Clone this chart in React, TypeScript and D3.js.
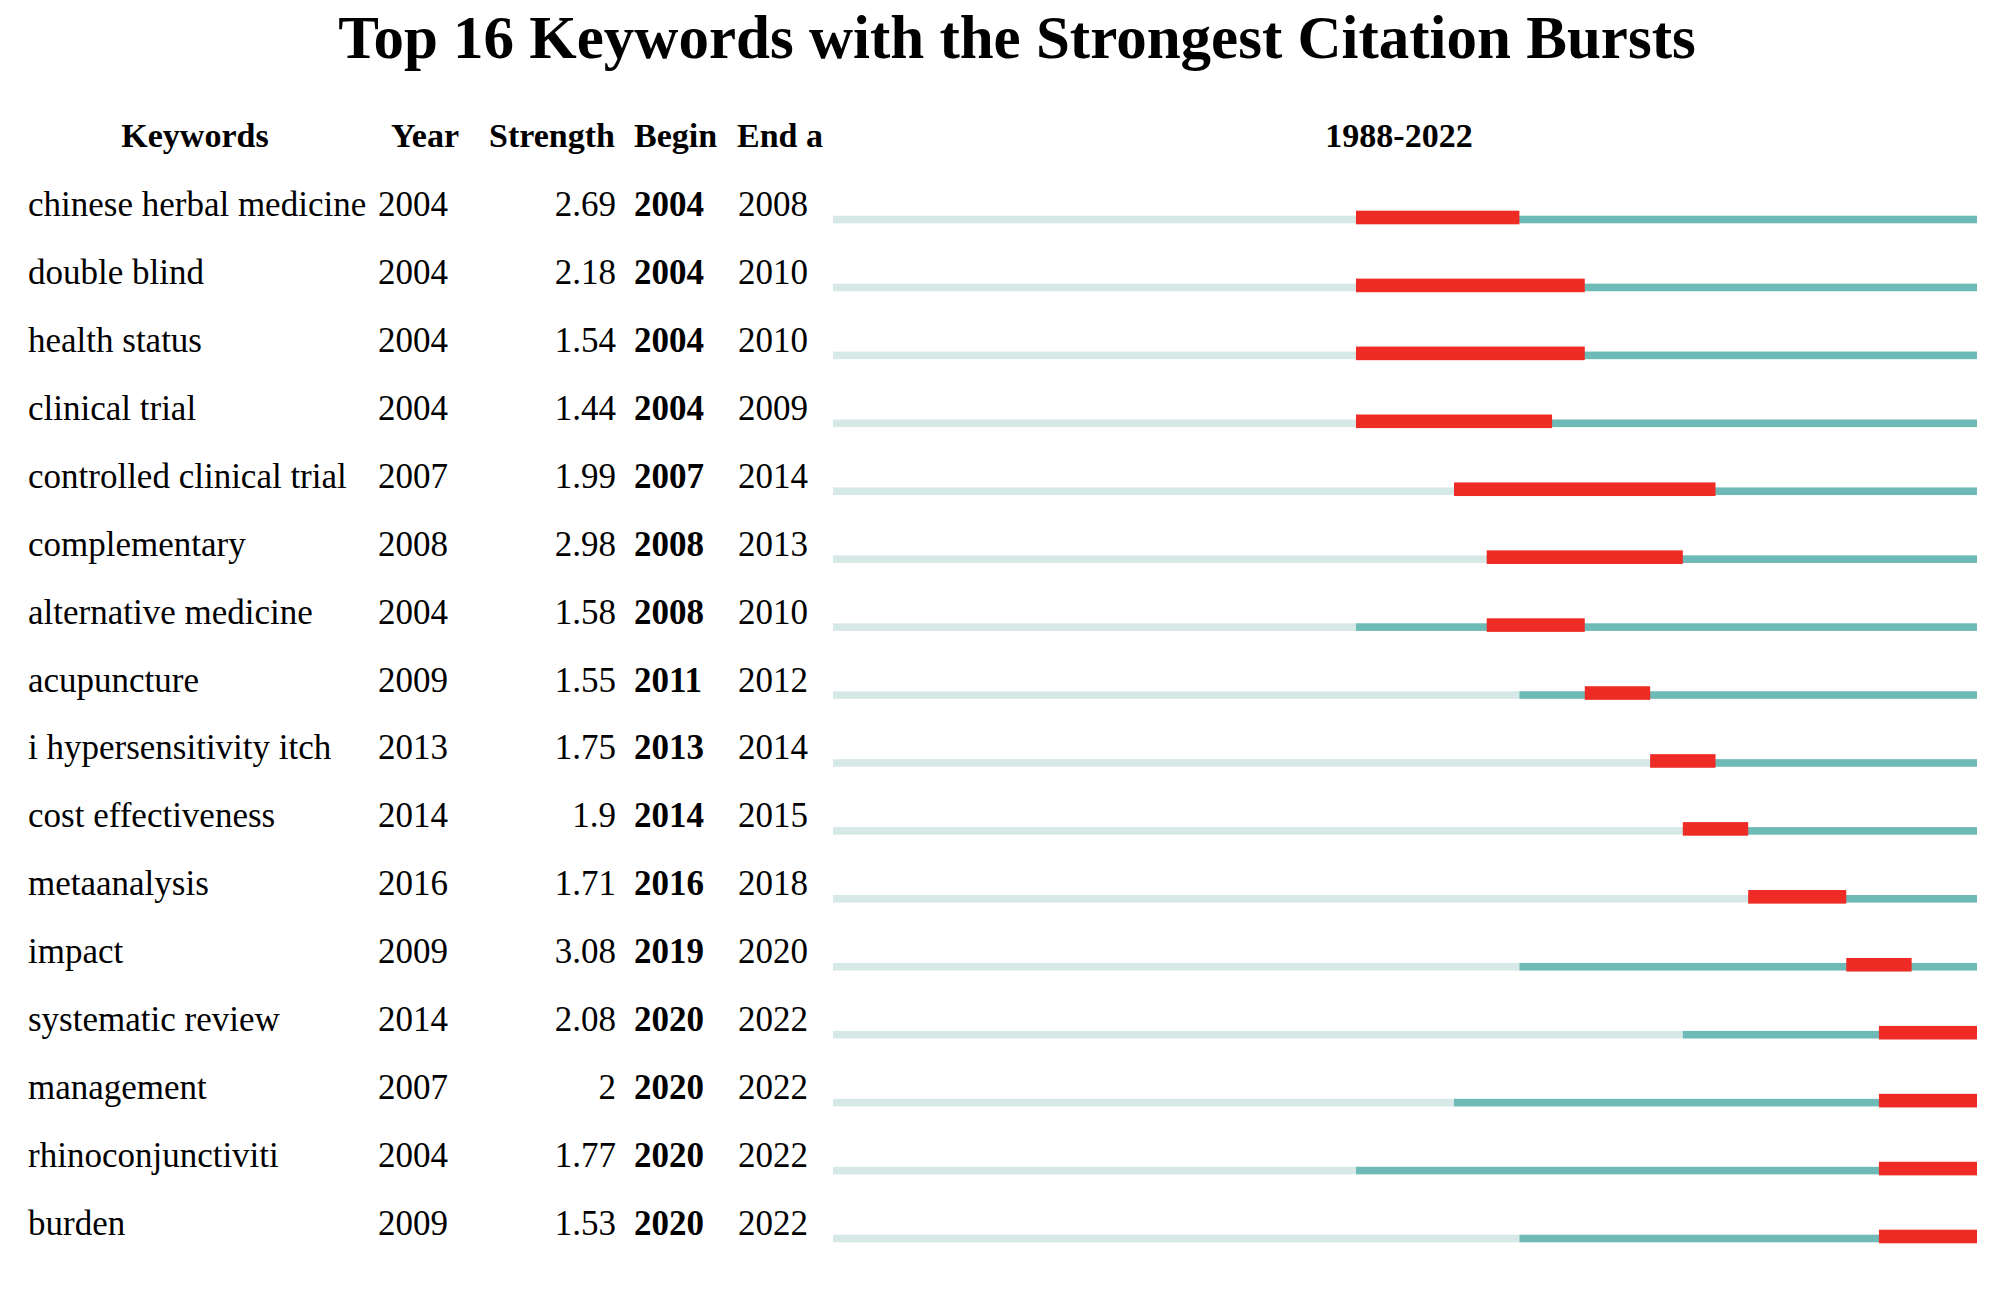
import React from "react";
import * as d3 from "d3";

const keywords = [
  "chinese herbal medicine",
  "double blind",
  "health status",
  "clinical trial",
  "controlled clinical trial",
  "complementary",
  "alternative medicine",
  "acupuncture",
  "i hypersensitivity itch",
  "cost effectiveness",
  "metaanalysis",
  "impact",
  "systematic review",
  "management",
  "rhinoconjunctiviti",
  "burden",
];
const years = [2004, 2004, 2004, 2004, 2007, 2008, 2004, 2009, 2013, 2014, 2016, 2009, 2014, 2007, 2004, 2009];
const strengths = [2.69, 2.18, 1.54, 1.44, 1.99, 2.98, 1.58, 1.55, 1.75, 1.9, 1.71, 3.08, 2.08, 2, 1.77, 1.53];
const begins = [2004, 2004, 2004, 2004, 2007, 2008, 2008, 2011, 2013, 2014, 2016, 2019, 2020, 2020, 2020, 2020];
const ends = [2008, 2010, 2010, 2009, 2014, 2013, 2010, 2012, 2014, 2015, 2018, 2020, 2022, 2022, 2022, 2022];
const firstYear = 1988;
const lastYear = 2022;
const headers = ["Keywords", "Year", "Strength", "Begin", "End a"];
const title = "Top 16 Keywords with the Strongest Citation Bursts";

const W = 2000;
const H = 1293;
const FONT = "'Liberation Serif', 'Times New Roman', Times, serif";

export default function App() {
  const x = d3.scaleLinear().domain([firstYear, lastYear + 1]).range([833, 1977]);
  const y = d3.scaleLinear().domain([0, keywords.length - 1]).range([217.5, 1236.5]);
  const light = "#d7e9e7";
  const teal = "#6dbab6";
  const red = "#ee2c25";
  const fs = 35;

  return (
    <svg
      width={W}
      height={H}
      viewBox={`0 0 ${W} ${H}`}
      style={{ position: "absolute", left: 0, top: 0, background: "#fff" }}
      fontFamily={FONT}
    >
      <rect x={0} y={0} width={W} height={H} fill="#fff" />
      <text x={1017} y={58} textAnchor="middle" fontSize={61} fontWeight="bold" fill="#000">
        {title}
      </text>
      <g fontWeight="bold" fontSize={34} fill="#000">
        <text x={195} y={147} textAnchor="middle">{headers[0]}</text>
        <text x={391} y={147}>{headers[1]}</text>
        <text x={615} y={147} textAnchor="end">{headers[2]}</text>
        <text x={634} y={147}>{headers[3]}</text>
        <text x={737} y={147}>{headers[4]}</text>
        <text x={1399} y={147} textAnchor="middle">{`${firstYear}-${lastYear}`}</text>
      </g>
      {keywords.map((k, i) => {
        const cy = y(i);
        const ty = cy - 1.5;
        return (
          <g key={k}>
            <text x={28} y={ty} fontSize={fs} fill="#000">{k}</text>
            <text x={378} y={ty} fontSize={fs} fill="#000">{years[i]}</text>
            <text x={616} y={ty} fontSize={fs} fill="#000" textAnchor="end">{String(strengths[i])}</text>
            <text x={634} y={ty} fontSize={fs} fontWeight="bold" fill="#000">{begins[i]}</text>
            <text x={738} y={ty} fontSize={fs} fill="#000">{ends[i]}</text>
            <rect x={x(firstYear)} y={cy - 1.8} width={x(years[i]) - x(firstYear)} height={7.6} fill={light} />
            <rect x={x(years[i])} y={cy - 1.8} width={x(lastYear + 1) - x(years[i])} height={7.6} fill={teal} />
            <rect x={x(begins[i])} y={cy - 6.8} width={x(ends[i] + 1) - x(begins[i])} height={13.6} fill={red} />
          </g>
        );
      })}
    </svg>
  );
}
